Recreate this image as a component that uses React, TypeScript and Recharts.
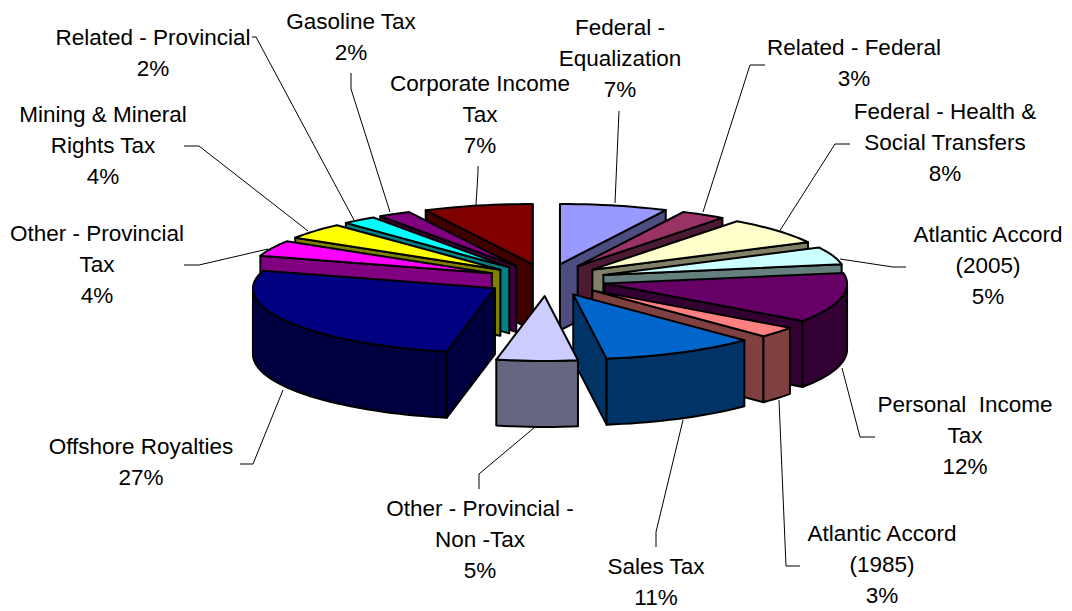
import { PieChart, Pie } from 'recharts'

// clockwise from 12 o'clock; shares
const sliceNames = [
  'Federal - Equalization', 'Related - Federal', 'Federal - Health & Social Transfers',
  'Atlantic Accord (2005)', 'Personal Income Tax', 'Atlantic Accord (1985)', 'Sales Tax',
  'Other - Provincial - Non -Tax', 'Offshore Royalties', 'Other - Provincial Tax',
  'Mining & Mineral Rights Tax', 'Related - Provincial', 'Gasoline Tax', 'Corporate Income Tax'
]
const sliceShares = [7.2, 3.0, 7.3, 4.7, 12.6, 2.7, 10.3, 5.4, 26.5, 4.2, 4.3, 2.3, 2.2, 7.3]
const printedPercents = [7, 3, 8, 5, 12, 3, 11, 5, 27, 4, 4, 2, 2, 7]
const labelLines = [
  ['Federal -', 'Equalization'], ['Related - Federal'], ['Federal - Health &', 'Social Transfers'],
  ['Atlantic Accord', '(2005)'], ['Personal  Income', 'Tax'], ['Atlantic Accord', '(1985)'], ['Sales Tax'],
  ['Other - Provincial -', 'Non -Tax'], ['Offshore Royalties'], ['Other - Provincial', 'Tax'],
  ['Mining & Mineral', 'Rights Tax'], ['Related - Provincial'], ['Gasoline Tax'], ['Corporate Income', 'Tax']
]
const sliceColors = [
  '#9999FF', '#993366', '#FFFFCC', '#CCFFFF', '#660066', '#FF8080', '#0066CC',
  '#CCCCFF', '#000080', '#FF00FF', '#FFFF00', '#00FFFF', '#800080', '#800000'
]

const rows = sliceNames.map((name, i) => ({ name, value: sliceShares[i], fill: sliceColors[i], row: i }))

// label block centre x, first line y
const labelSpots = [
  [620, 27], [854, 47], [945, 111], [988, 234], [965, 404], [882, 533], [656, 566],
  [480, 508], [141, 446], [97, 233], [103, 114], [153, 37], [351, 21], [480, 83]
]
const leaderLines = [
  '619,111 615,203', '765,65 750,65 703,212', '850,144 835,144 779,232', '906,267 893,267 840,259',
  '875,437 860,437 842,368', '800,566 786,566 779,400', '656,547 656,532 683,420',
  '479,489 479,474 535,427', '240,464 253,464 283,390', '184,265 199,265 268,249',
  '184,146 199,146 308,231', '252,37 256,37 354,220', '351,73 351,89 390,212', '478,166 478,172 476,205'
]

const SQUASH = 0.268
const BACK_SQUASH = 0.93 // far half of the disc looks a bit flatter
const EXPLODE = 60
const DEPTH = 66
const LINE_GAP = 31
const FRONT_SPLIT = 175

const darken = (hex: string) => {
  const n = parseInt(hex.slice(1), 16)
  const half = (v: number) => Math.round(v / 2).toString(16).padStart(2, '0')
  return '#' + half((n >> 16) & 255) + half((n >> 8) & 255) + half(n & 255)
}

// tilted disc wedge, angles in degrees clockwise from the top
const Wedge3D = (props: any, wantFront: boolean) => {
  const { cx, cy, outerRadius, startAngle, endAngle, fill } = props
  const a = Math.round(Math.min(90 - startAngle, 90 - endAngle) * 1000) / 1000
  const b = Math.round(Math.max(90 - startAngle, 90 - endAngle) * 1000) / 1000
  const from = ((a % 360) + 360) % 360
  const to = from + (b - a)
  const mid = (from + to) / 2
  if (mid >= FRONT_SPLIT !== wantFront) return <g />

  const rad = (d: number) => (d * Math.PI) / 180
  const ox = cx + EXPLODE * Math.sin(rad(mid))
  const oy = cy - EXPLODE * SQUASH * Math.cos(rad(mid))
  const rx = outerRadius
  const ry = outerRadius * SQUASH
  const rim = (d: number) => {
    const c = Math.cos(rad(d))
    return [ox + rx * Math.sin(rad(d)), oy - ry * c * (c > 0 ? BACK_SQUASH : 1)]
  }
  const arc = (d1: number, d2: number) => {
    const n = Math.max(2, Math.ceil((d2 - d1) / 2))
    return Array.from({ length: n + 1 }, (_, i) => rim(d1 + ((d2 - d1) * i) / n))
  }
  const toPath = (pts: number[][]) => 'M' + pts.map(p => `${p[0]},${p[1]}`).join(' L') + ' Z'
  const side = darken(fill)
  const edge = { stroke: '#000', strokeWidth: 2, strokeLinejoin: 'round' as const }

  const radialWall = (d: number) => {
    const [x, y] = rim(d)
    return <path d={toPath([[ox, oy], [x, y], [x, y + DEPTH], [ox, oy + DEPTH]])} fill={side} {...edge} />
  }
  const wallFrom = Math.max(from, 90)
  const wallTo = Math.min(to, 270)
  const wallRim = wallFrom < wallTo ? arc(wallFrom, wallTo) : []
  const wallBottom = [...wallRim].reverse().map(p => [p[0], p[1] + DEPTH])

  return (
    <g>
      {Math.sin(rad(from)) < 0 ? radialWall(from) : null}
      {Math.sin(rad(to)) > 0 ? radialWall(to) : null}
      {wallRim.length ? <path d={toPath([...wallRim, ...wallBottom])} fill={side} {...edge} /> : null}
      <path d={toPath([[ox, oy], ...arc(from, to)])} fill={fill} {...edge} />
    </g>
  )
}

const rightShape = (props: any) => Wedge3D(props, false)
const leftShape = (props: any) => Wedge3D(props, true)

const renderLabel = (props: any) => {
  const row = props.payload?.row ?? props.row
  const [x, y] = labelSpots[row]
  const lines = [...labelLines[row], printedPercents[row] + '%']
  return (
    <g key={row}>
      <polyline points={leaderLines[row]} fill="none" stroke="#000" strokeWidth={1} />
      {lines.map((line, i) => (
        <text
          key={i}
          x={x}
          y={y + i * LINE_GAP}
          textAnchor="middle"
          dominantBaseline="central"
          fontFamily="'Liberation Sans', Arial, sans-serif"
          fontSize={22.5}
          fill="#000"
          style={{ whiteSpace: 'pre' }}
        >
          {line}
        </text>
      ))}
    </g>
  )
}

export default function App() {
  return (
    <div style={{ position: 'absolute', left: 0, top: 0, width: 1072, height: 611, background: '#fff' }}>
      <PieChart width={1072} height={611} margin={{ top: 0, right: 0, bottom: 0, left: 0 }}>
        {/* right half back to front, walking clockwise */}
        <Pie
          data={rows}
          dataKey="value"
          cx={546.5}
          cy={280}
          outerRadius={242}
          startAngle={90}
          endAngle={-270}
          shape={rightShape}
          activeShape={rightShape}
          inactiveShape={rightShape}
          label={false}
          labelLine={false}
          isAnimationActive={false}
        />
        {/* left half back to front, walking counter-clockwise; labels ride on this one */}
        <Pie
          data={[...rows].reverse()}
          dataKey="value"
          cx={546.5}
          cy={280}
          outerRadius={242}
          startAngle={90}
          endAngle={450}
          shape={leftShape}
          activeShape={leftShape}
          inactiveShape={leftShape}
          label={renderLabel}
          labelLine={false}
          isAnimationActive={false}
        />
      </PieChart>
    </div>
  )
}
